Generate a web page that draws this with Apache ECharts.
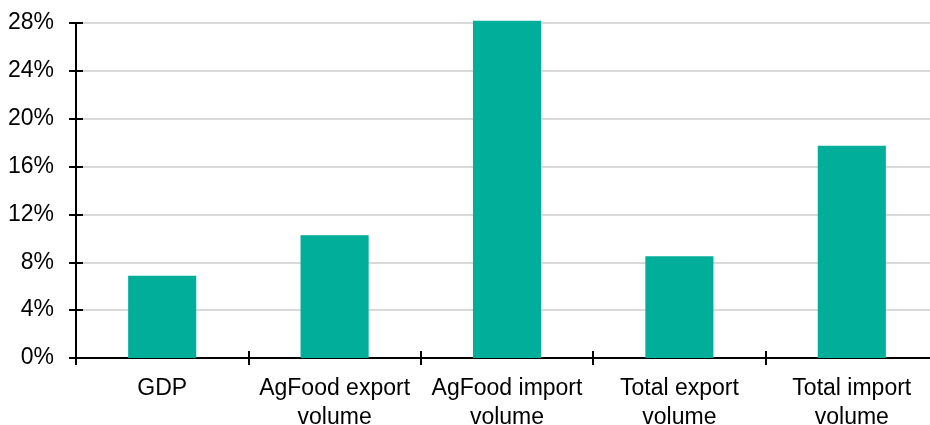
<!DOCTYPE html>
<html>
<head>
<meta charset="utf-8">
<script src="https://cdn.jsdelivr.net/npm/echarts@6/dist/echarts.min.js"></script>
<style>
html,body{margin:0;padding:0;background:#fff;}
#chart{width:930px;height:425px;}
</style>
</head>
<body>
<div id="chart"></div>
<script>
const categories = ["GDP", "AgFood export\nvolume", "AgFood import\nvolume", "Total export\nvolume", "Total import\nvolume"];
const values = [6.88, 10.25, 28.18, 8.5, 17.73];
const yTicks = { min: 0, max: 28, interval: 4 };

const chart = echarts.init(document.getElementById('chart'), null, { renderer: 'canvas' });
const font = 'Liberation Sans, Arial, sans-serif';
const axisLineStyle = { color: '#000', width: 2 };

chart.setOption({
  animation: false,
  backgroundColor: '#fff',
  grid: { left: 76, right: -8, top: 23, bottom: 67, containLabel: false, outerBoundsMode: 'none' },
  xAxis: [
    {
      type: 'category',
      data: categories,
      position: 'bottom',
      axisLine: { show: true, lineStyle: axisLineStyle },
      axisTick: { show: true, length: 7, lineStyle: axisLineStyle },
      axisLabel: { color: '#000', fontSize: 23, fontFamily: font, lineHeight: 29, margin: 16, interval: 0 },
      splitLine: { show: false }
    },
    {
      type: 'category',
      data: categories,
      position: 'bottom',
      axisLine: { show: false },
      axisTick: { show: true, inside: true, length: 7, lineStyle: axisLineStyle },
      axisLabel: { show: false },
      splitLine: { show: false }
    }
  ],
  yAxis: [
    {
      type: 'value',
      min: yTicks.min, max: yTicks.max, interval: yTicks.interval,
      axisLine: { show: true, lineStyle: axisLineStyle },
      axisTick: { show: true, length: 7, lineStyle: axisLineStyle },
      axisLabel: { color: '#000', fontSize: 23, fontFamily: font, margin: 22, formatter: v => v + '%' },
      splitLine: { show: true, lineStyle: { color: '#d9d9d9', width: 2 } }
    },
    {
      type: 'value',
      min: yTicks.min, max: yTicks.max, interval: yTicks.interval,
      position: 'left',
      axisLine: { show: false },
      axisTick: { show: true, inside: true, length: 7, lineStyle: axisLineStyle },
      axisLabel: { show: false },
      splitLine: { show: false }
    }
  ],
  series: [
    {
      type: 'bar',
      data: values,
      xAxisIndex: 0,
      yAxisIndex: 0,
      barWidth: '39.5%',
      clip: false,
      itemStyle: { color: '#00ae99' },
      z: 1
    }
  ]
});
</script>
</body>
</html>
